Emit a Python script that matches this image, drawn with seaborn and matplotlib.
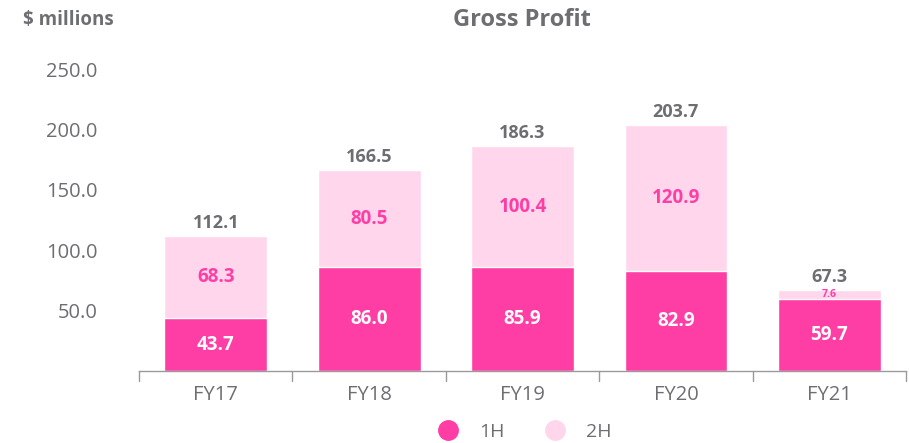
import pandas as pd
import numpy as np
import matplotlib.pyplot as plt
import seaborn as sns
from matplotlib.lines import Line2D

sns.set_theme(style="white")
plt.rcParams['font.family'] = ['Open Sans', 'DejaVu Sans']

years = ["FY17", "FY18", "FY19", "FY20", "FY21"]
first_half = [43.7, 86.0, 85.9, 82.9, 59.7]
second_half = [68.3, 80.5, 100.4, 120.9, 7.6]
totals = [112.1, 166.5, 186.3, 203.7, 67.3]
yticks = [50.0, 100.0, 150.0, 200.0, 250.0]

c1 = "#FF3EA5"
c2 = "#FFD6EC"
grey = "#6D6E71"

df = pd.DataFrame({"year": years, "1H": first_half, "2H": second_half, "total": totals})
df["stack"] = df["1H"] + df["2H"]

fig = plt.figure(figsize=(9.09, 4.43), dpi=100)
ax = fig.add_axes([0.153, 0.1625, 0.8437, 0.7088])

sns.barplot(data=df, x="year", y="stack", color=c2, width=0.67, saturation=1, ax=ax)
sns.barplot(data=df, x="year", y="1H", color=c1, width=0.67, saturation=1, ax=ax)

for i, row in df.iterrows():
    ax.text(i, row["1H"] / 2, f"{row['1H']:.1f}", ha="center", va="center",
            color="white", fontsize=13.5, fontweight="bold")
    small = row["2H"] < 20
    ax.text(i, row["1H"] + row["2H"] / 2, f"{row['2H']:.1f}", ha="center", va="center",
            color=c1, fontsize=7.5 if small else 13.5, fontweight="bold")
    ax.text(i, row["stack"] + 3, f"{row['total']:.1f}", ha="center", va="bottom",
            color=grey, fontsize=13, fontweight="bold")

ax.set_xlim(-0.5, 4.5)
ax.set_ylim(0, 260)
ax.set_yticks(yticks)
ax.set_yticklabels([f"{v:.1f}" for v in yticks], color=grey, fontsize=14.5)
ax.set_xticks(range(len(years)))
ax.set_xticklabels(years, color=grey, fontsize=14.5)
ax.tick_params(axis="y", length=0, pad=30)
ax.tick_params(axis="x", length=0, pad=10)
for s in ["top", "right", "left"]:
    ax.spines[s].set_visible(False)
ax.spines["bottom"].set_color("#9A9A9A")
ax.spines["bottom"].set_linewidth(1)
ax.set_xlabel("")
ax.set_ylabel("")

# tick marks between categories
for b in np.arange(-0.5, 5.0, 1.0):
    ax.plot([b, b], [0, -8], color="#9A9A9A", lw=1, clip_on=False)

fig.text(0.574, 0.955, "Gross Profit", ha="center", va="center",
         color=grey, fontsize=17, fontweight="bold")
fig.text(0.025, 0.955, "$ millions", ha="left", va="center",
         color=grey, fontsize=13.5, fontweight="bold")

handles = [Line2D([], [], marker="o", ls="", ms=14, color=c1),
           Line2D([], [], marker="o", ls="", ms=14, color=c2)]
fig.legend(handles, ["1H", "2H"], loc="center", bbox_to_anchor=(0.572, 0.025),
           ncol=2, frameon=False, fontsize=14, labelcolor=grey,
           handletextpad=0.6, columnspacing=1.6)

fig.savefig("out.png", dpi=100)
